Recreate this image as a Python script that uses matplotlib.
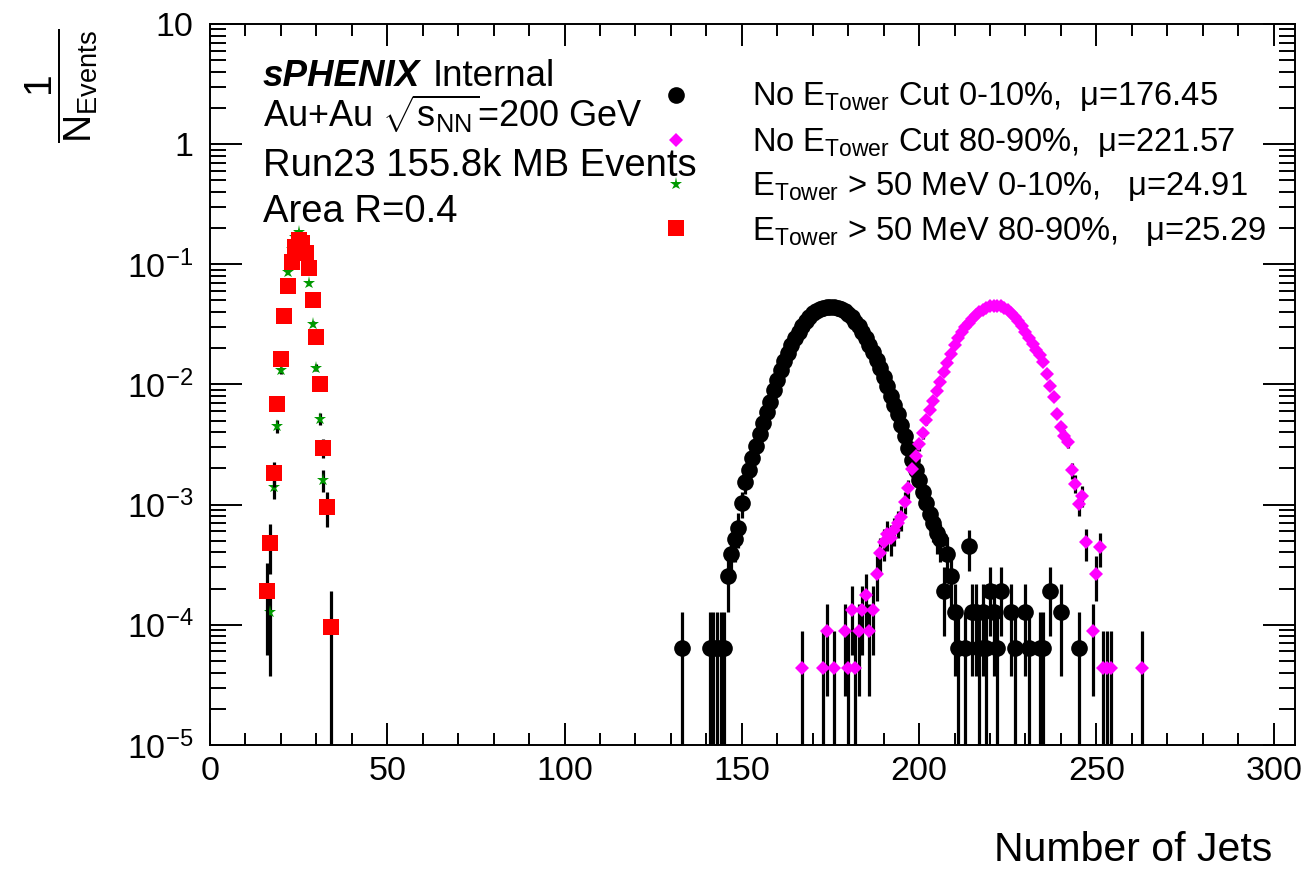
import matplotlib
matplotlib.use('Agg')
import matplotlib.pyplot as plt
import numpy as np
from matplotlib.lines import Line2D

plt.rcParams['font.family'] = 'Liberation Sans'
plt.rcParams['mathtext.fontset'] = 'custom'
plt.rcParams['mathtext.rm'] = 'Liberation Sans'
plt.rcParams['mathtext.it'] = 'Liberation Sans:italic'
plt.rcParams['mathtext.bf'] = 'Liberation Sans:bold'

# events per sample (one count = 1/N on the y axis)
n_central = 15580
n_peripheral = 22700
n_cut_peripheral = 10400

# No E_Tower cut, 0-10%  (x = 133 ... 245)
nocut_central_x = np.arange(133, 246)
nocut_central_counts = [
    1, 0, 0, 0, 0, 0, 0, 0, 1, 1,
    1, 1, 1, 4, 6, 8, 10, 16, 24, 30,
    38, 48, 60, 75, 92, 112, 140, 170, 205, 245,
    285, 335, 380, 430, 480, 530, 570, 610, 640, 665,
    680, 688, 690, 688, 680, 662, 638, 605, 565, 520,
    475, 425, 378, 330, 288, 250, 215, 180, 150, 125,
    105, 88, 72, 58, 46, 37, 30, 25, 20, 16,
    13, 11, 9, 8, 3, 6, 4, 2, 1, 0,
    1, 7, 2, 2, 1, 2, 1, 3, 2, 1,
    3, 0, 0, 2, 1, 0, 0, 2, 1, 0,
    0, 1, 1, 0, 3, 0, 0, 2, 0, 0,
    0, 0, 1]

# No E_Tower cut, 80-90%  (x = 167 ... 263)
nocut_periph_x = np.arange(167, 264)
nocut_periph_counts = [
    1, 0, 0, 0, 0, 0, 1, 2, 0, 1,
    0, 0, 2, 1, 3, 1, 2, 3, 4, 2,
    3, 6, 9, 11, 13, 12, 14, 16, 18, 24,
    31, 45, 58, 72, 90, 115, 140, 165, 200, 240,
    290, 340, 410, 480, 550, 615, 680, 740, 800, 860,
    910, 950, 990, 1015, 1030, 1030, 1015, 985, 945, 895,
    835, 770, 700, 625, 555, 490, 440, 400, 350, 280,
    220, 180, 130, 100, 85, 76, 44, 34, 23, 27,
    11, 0, 2, 6, 10, 1, 1, 1, 0, 0,
    0, 0, 0, 0, 0, 0, 1]

# E_Tower > 50 MeV, 0-10%
cut_central_x = np.arange(17, 33)
cut_central_counts = [2, 22, 70, 205, 560, 1350, 2100, 2650, 2900, 2450,
                      1800, 1090, 500, 215, 81, 25]

# E_Tower > 50 MeV, 80-90%
cut_periph_x = np.arange(16, 35)
cut_periph_counts = [2, 5, 19, 71, 170, 385, 690, 1090, 1460, 1660,
                     1560, 1300, 970, 530, 260, 105, 31, 10, 1]

series = [
    (nocut_central_x, nocut_central_counts, n_central, 'o', 'black', 12,
     r'No E$_{\mathrm{Tower}}$ Cut 0-10%,  μ=176.45'),
    (nocut_periph_x, nocut_periph_counts, n_peripheral, 'D', '#ff00ff', 7.5,
     r'No E$_{\mathrm{Tower}}$ Cut 80-90%,  μ=221.57'),
    (cut_central_x, cut_central_counts, n_central, '*', '#009900', 9.5,
     r'E$_{\mathrm{Tower}}$ > 50 MeV 0-10%,   μ=24.91'),
    (cut_periph_x, cut_periph_counts, n_cut_peripheral, 's', '#ff0000', 12,
     r'E$_{\mathrm{Tower}}$ > 50 MeV 80-90%,   μ=25.29'),
]

fig = plt.figure(figsize=(13.14, 8.69), dpi=100)
ax = fig.add_axes([0.1598, 0.1427, 0.8257, 0.8297])

for i, (x, c, n, mk, col, ms, lab) in enumerate(series):
    x = np.asarray(x)
    c = np.asarray(c, dtype=float)
    keep = c > 0
    x, c = x[keep], c[keep]
    y = c / n
    err = np.sqrt(c) / n
    lo = np.maximum(y - err, 1e-7)
    z = 2 + i
    ax.vlines(x, lo, y + err, color='black', lw=2.3, zorder=z)
    ax.plot(x, y, ls='none', marker=mk, color=col, ms=ms, mew=0, zorder=z + 0.5)

ax.set_yscale('log')
ax.set_xlim(0, 306)
ax.set_ylim(1e-5, 10)

ax.set_xticks([0, 50, 100, 150, 200, 250, 300])
ax.set_xticks(np.arange(0, 306, 10), minor=True)
ax.set_yticks([1e-5, 1e-4, 1e-3, 1e-2, 1e-1, 1, 10])
ax.set_yticklabels([r'$10^{-5}$', r'$10^{-4}$', r'$10^{-3}$', r'$10^{-2}$',
                    r'$10^{-1}$', '1', '10'])
ax.yaxis.set_minor_locator(matplotlib.ticker.LogLocator(base=10, subs=np.arange(2, 10)))
ax.yaxis.set_minor_formatter(matplotlib.ticker.NullFormatter())

ax.tick_params(which='both', direction='in', top=True, right=True, width=1.4,
               labelsize=24.5)
ax.tick_params(axis='x', which='major', length=15.6, pad=8)
ax.tick_params(axis='x', which='minor', length=8.5)
ax.tick_params(axis='y', which='major', length=23, pad=12)
ax.tick_params(axis='y', which='minor', length=11.5)
for sp in ax.spines.values():
    sp.set_linewidth(1.4)

# axis titles
fig.text(0.968, 0.022, 'Number of Jets', ha='right', va='center', fontsize=29.5)
fig.text(0.047, 0.902, r'$\dfrac{1}{\mathrm{N}_{\mathrm{Events}}}$', rotation=90,
         ha='center', va='center', fontsize=28)

# labels in the upper left
x0 = 263 / 1314
t = fig.text(x0, 1 - 86 / 869, 'sPHENIX', fontsize=26.5, fontweight='bold',
             style='italic', va='baseline')
fig.canvas.draw()
bb = t.get_window_extent().transformed(fig.transFigure.inverted())
fig.text(bb.x1 + 12 / 1314, 1 - 86 / 869, 'Internal', fontsize=26.5, va='baseline')
fig.text(x0, 1 - 127 / 869, r'Au+Au $\sqrt{\mathrm{s}_{\mathrm{NN}}}$=200 GeV',
         fontsize=26, va='baseline')
fig.text(x0, 1 - 176 / 869, 'Run23 155.8k MB Events', fontsize=27.5,
         va='baseline')
fig.text(x0, 1 - 222 / 869, 'Area R=0.4', fontsize=27.5, va='baseline')

# legend
marker_y = [95, 140, 184, 228]
text_base = [105, 151, 195, 240]
for (x, c, n, mk, col, ms, lab), my, ty in zip(series, marker_y, text_base):
    fig.add_artist(Line2D([676 / 1314], [1 - my / 869], transform=fig.transFigure,
                          marker=mk, color=col, ms=ms, mew=0, ls='none'))
    fig.text(752 / 1314, 1 - ty / 869, lab, fontsize=23.5, va='baseline')

fig.savefig('out.png', dpi=100)
